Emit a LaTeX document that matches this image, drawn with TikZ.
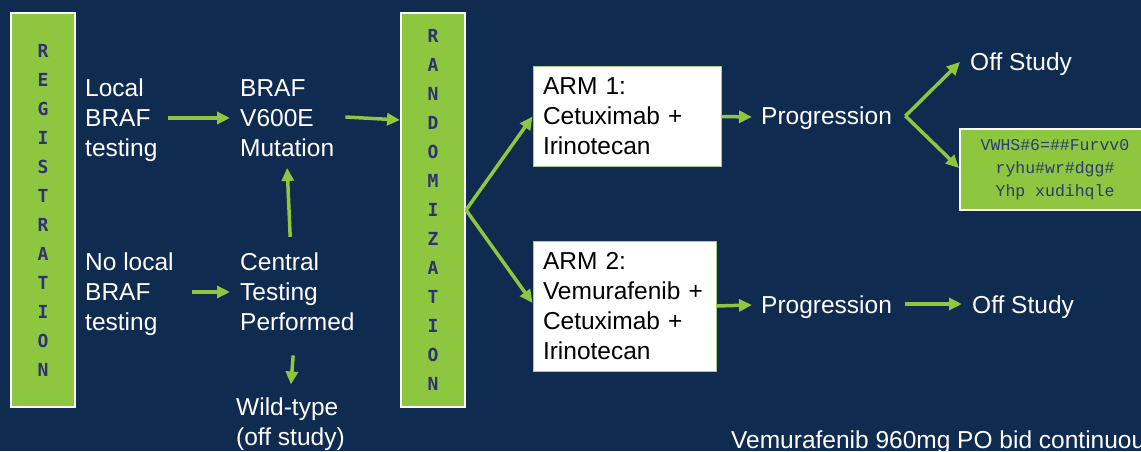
\documentclass[tikz,border=0pt]{standalone}
\usepackage{fontspec}
\setmainfont{Liberation Sans}
\newfontfamily\barfont{DejaVu Sans Mono}
\newfontfamily\stepfont{Liberation Mono}
\usetikzlibrary{arrows.meta}
\definecolor{bg}{HTML}{102B50}
\definecolor{grn}{HTML}{8DC63F}
\definecolor{bartext}{HTML}{2E3275}
\definecolor{steptext}{HTML}{2E3A6E}
\definecolor{boxedge}{HTML}{A9CF84}
\tikzset{
  txt/.style={text=white, font=\fontsize{24.5}{30}\selectfont, align=left, inner sep=0pt, anchor=west},
  bar/.style={draw=white, line width=2pt, fill=grn, minimum width=64pt, minimum height=394pt, inner sep=0pt,
    text=bartext, font=\barfont\bfseries\fontsize{18}{29}\selectfont, align=center},
  armbox/.style={draw=boxedge, line width=1pt, fill=white, text=black, font=\fontsize{24.5}{30}\selectfont,
    align=left, inner sep=0pt},
  stepbox/.style={draw=white, line width=2pt, fill=grn, minimum width=190pt, minimum height=81pt, inner sep=0pt,
    text=steptext, font=\stepfont\fontsize{16.5}{23}\selectfont, align=center},
  arr/.style={draw=grn, line width=3.5pt, -{Triangle[length=13pt,width=12pt]}},
}
\begin{document}
\begin{tikzpicture}[x=1pt,y=1pt]
\useasboundingbox (0,0) rectangle (1141,451);
\clip (0,0) rectangle (1141,451);
\fill[bg] (0,0) rectangle (1141,451);

\node[bar] (reg) at (43,241) {R\\E\\G\\I\\S\\T\\R\\A\\T\\I\\O\\N};
\node[bar] (rand) at (433,241) {R\\A\\N\\D\\O\\M\\I\\Z\\A\\T\\I\\O\\N};

\node[txt] (local) at (85,331) {Local\\BRAF\\testing};
\node[txt] (braf) at (240,333) {BRAF\\V600E\\Mutation};
\node[txt] (nolocal) at (85,157) {No local\\BRAF\\testing};
\node[txt] (central) at (240,159) {Central\\Testing\\Performed};
\node[txt] (wild) at (236,27) {Wild-type\\(off study)};

\node[armbox, minimum width=188pt, minimum height=99pt, text width=168pt] (arm1) at (627,334.5)
  {ARM 1:\\Cetuximab +\\Irinotecan};
\node[armbox, minimum width=183pt, minimum height=130pt, text width=163pt] (arm2) at (624.5,145)
  {ARM 2:\\Vemurafenib +\\Cetuximab +\\Irinotecan};

\node[txt] (prog1) at (761,333) {Progression};
\node[txt] (prog2) at (761,144) {Progression};
\node[txt] (off1) at (970,387) {Off Study};
\node[txt] (off2) at (972,144) {Off Study};
\node[stepbox] (step) at (1055,281.5) {VWHS\#6=\#\#Furvv0\\ryhu\#wr\#dgg\#\\Yhp xudihqle};
\node[txt] (note) at (731,9) {Vemurafenib 960mg PO bid continuous};

\draw[arr] ([xshift=10.8pt,yshift=2pt]local.east) -- ([xshift=-10pt]braf.west);
\draw[arr] ([xshift=11pt,yshift=1pt]braf.east) -- ([yshift=-2pt]braf.east -| rand.west);
\draw[arr] ([xshift=-7.2pt,yshift=16pt]central.north) -- ([yshift=-11.2pt]braf.south);
\draw[arr] ([xshift=18.5pt,yshift=2pt]nolocal.east) -- ([xshift=-10pt]central.west);
\draw[arr] ([xshift=-4.2pt,yshift=-24.2pt]central.south) -- ([xshift=0.5pt,yshift=12.9pt]wild.north);
\draw[arr] (rand.east) -- (arm1.west);
\draw[arr] (rand.east) -- ([yshift=3pt]arm2.west);
\draw[arr] (arm1.east) -- ([xshift=-9pt,yshift=1pt]prog1.west);
\draw[arr] (arm2.east) -- ([xshift=-9pt,yshift=2pt]prog2.west);
\draw[arr] ([xshift=13.3pt,yshift=2pt]prog1.east) -- ([xshift=-10pt,yshift=2pt]off1.west);
\draw[arr] ([xshift=13.3pt,yshift=2pt]prog1.east) -- ([yshift=1.5pt]step.west);
\draw[arr] ([xshift=13.3pt,yshift=3pt]prog2.east) -- ([xshift=-10pt,yshift=3pt]off2.west);
\end{tikzpicture}
\end{document}
